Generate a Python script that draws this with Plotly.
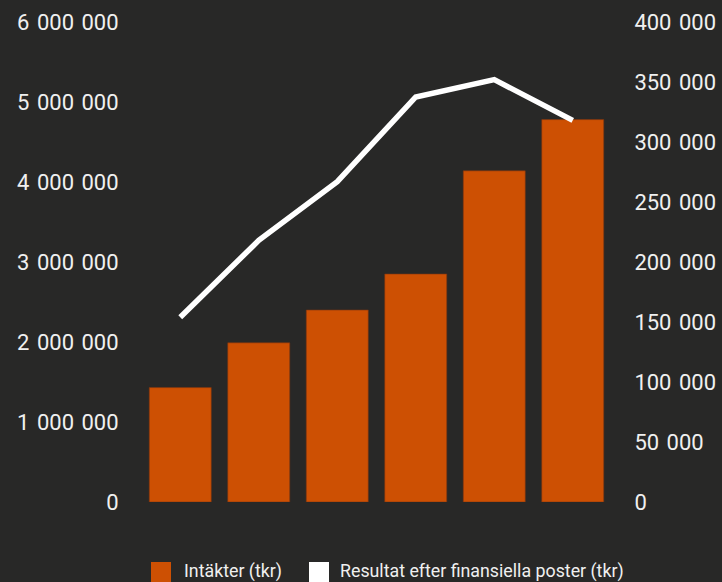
import plotly.graph_objects as go

years = ["2013", "2014", "2015", "2016", "2017", "2018"]
intakter = [1430000, 1990000, 2400000, 2850000, 4140000, 4780000]
resultat = [154000, 218000, 267000, 337500, 352000, 318000]

SP = "\u2004"
left_ticks = [0, 1000000, 2000000, 3000000, 4000000, 5000000, 6000000]
left_labels = ["0", "1 000 000", "2 000 000", "3 000 000", "4 000 000", "5 000 000", "6 000 000"]
right_ticks = [0, 50000, 100000, 150000, 200000, 250000, 300000, 350000, 400000]
right_labels = ["0", "50 000", "100 000", "150 000", "200 000", "250 000", "300 000", "350 000", "400 000"]

BG = "#282827"
ORANGE = "#CD5003"
FONT = "Roboto"
TXT = "#f0f0f0"

fig = go.Figure()
fig.add_trace(go.Bar(x=years, y=intakter, name="Intäkter (tkr)",
                     marker=dict(color=ORANGE, line=dict(color="#7a3410", width=0.6)),
                     showlegend=False))
fig.add_trace(go.Scatter(x=years, y=resultat, name="Resultat efter finansiella poster (tkr)",
                         mode="lines", line=dict(color="white", width=5.5),
                         yaxis="y2", showlegend=False))

fig.update_layout(
    width=722, height=582,
    paper_bgcolor=BG, plot_bgcolor=BG,
    margin=dict(l=141, r=110, t=22, b=80, autoexpand=False),
    bargap=0.21,
    font=dict(family=FONT, color=TXT, size=22),
    xaxis=dict(showticklabels=False, showgrid=False, zeroline=False, showline=False,
               automargin=False),
    yaxis=dict(range=[0, 6000000], tickvals=left_ticks,
               ticktext=[t.replace(" ", SP) for t in left_labels],
               showgrid=False, zeroline=False, showline=False, automargin=False,
               ticks="outside", ticklen=17, tickcolor=BG,
               tickfont=dict(family=FONT, size=22, color=TXT)),
    yaxis2=dict(range=[0, 400000], tickvals=right_ticks,
                ticktext=[t.replace(" ", SP) for t in right_labels],
                overlaying="y", side="right", automargin=False,
                showgrid=False, zeroline=False, showline=False,
                ticks="outside", ticklen=17, tickcolor=BG,
                tickfont=dict(family=FONT, size=22, color=TXT)),
)

def px_x(x):
    return (x - 141) / 471
def px_y(y):
    return (502 - y) / 480

fig.add_shape(type="rect", xref="paper", yref="paper",
              x0=px_x(151), x1=px_x(171), y0=px_y(582), y1=px_y(562),
              line=dict(width=0), fillcolor=ORANGE)
fig.add_shape(type="rect", xref="paper", yref="paper",
              x0=px_x(309), x1=px_x(329), y0=px_y(582), y1=px_y(562),
              line=dict(width=0), fillcolor="white")
fig.add_annotation(text="Intäkter (tkr)", xref="paper", yref="paper",
                   x=px_x(182), y=px_y(571), xanchor="left", yanchor="middle",
                   showarrow=False, font=dict(family=FONT, size=17.8, color=TXT))
fig.add_annotation(text="Resultat efter finansiella poster (tkr)", xref="paper", yref="paper",
                   x=px_x(338), y=px_y(571), xanchor="left", yanchor="middle",
                   showarrow=False, font=dict(family=FONT, size=17.8, color=TXT))

fig.write_html("out.html", config={"displayModeBar": False},
               post_script="document.body.style.margin='0';document.body.style.overflow='hidden';")
